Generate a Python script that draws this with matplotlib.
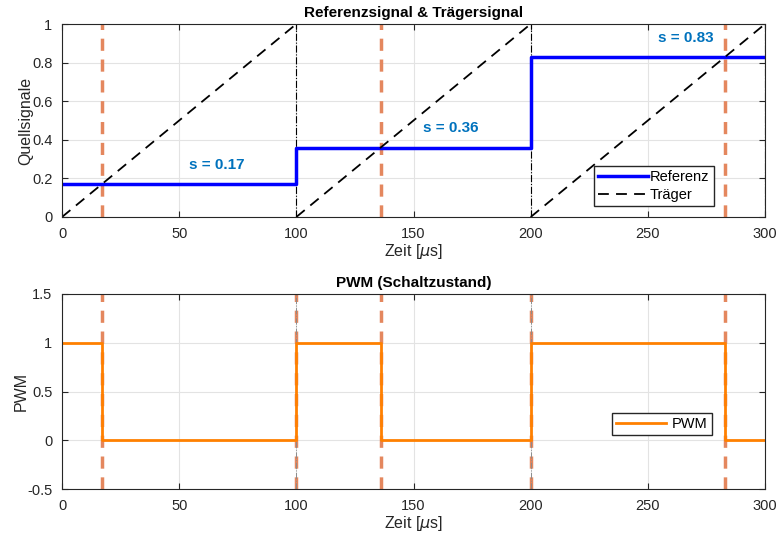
import numpy as np
import matplotlib
matplotlib.use('Agg')
import matplotlib.pyplot as plt

plt.rcParams['font.family'] = ['Liberation Sans', 'DejaVu Sans']
plt.rcParams['mathtext.fontset'] = 'dejavusans'

# Tastgrad je Periode, Periodendauer in us
s_vals = [0.17, 0.36, 0.83]
T = 100
t_end = 300

# Schaltzeitpunkte: Kreuzung Traeger/Referenz
t_cross = [k * T + s * T for k, s in enumerate(s_vals)]
t_period = [k * T for k in range(1, len(s_vals) + 1)]

# Referenz als Treppe
t_ref = []
y_ref = []
for k, s in enumerate(s_vals):
    t_ref += [k * T, (k + 1) * T]
    y_ref += [s, s]

# PWM: 1 bis zur Kreuzung, danach 0
t_pwm = []
y_pwm = []
for k, tc in enumerate(t_cross):
    t_pwm += [k * T, tc, tc, (k + 1) * T]
    y_pwm += [1, 1, 0, 0]

blue_txt = '#0072BD'
mark_col = '#E4875E'
pwm_col = '#FF8000'

fig = plt.figure(figsize=(7.77, 5.43), dpi=100)
ax1 = fig.add_axes([0.0798, 0.6004, 0.9048, 0.3554])
ax2 = fig.add_axes([0.0798, 0.0994, 0.9048, 0.3592])

def style(ax):
    ax.grid(True, color='#e3e3e3', linewidth=0.8)
    ax.set_axisbelow(True)
    ax.tick_params(direction='in', length=4, labelsize=10.5, colors='#262626',
                   top=True, right=True)
    ax.tick_params(axis='x', pad=7)
    ax.tick_params(axis='y', pad=7)
    for sp in ax.spines.values():
        sp.set_color('#262626')
        sp.set_linewidth(0.8)
    ax.set_xlim(0, t_end)
    ax.set_xticks(np.arange(0, t_end + 1, 50))
    ax.set_xlabel(r'Zeit [$\mu$s]', fontsize=11.5, color='#262626', labelpad=1)

# oberes Bild: Referenz und Traeger
for tc in t_cross:
    ax1.axvline(tc, color=mark_col, linestyle=(0, (3.5, 2.5)), linewidth=2.5)
for tp in t_period:
    ax1.axvline(tp, color='k', linestyle='-.', linewidth=0.8)
ax1.plot(t_ref, y_ref, color='b', linewidth=2.5, label='Referenz')
for k in range(len(s_vals)):
    ax1.plot([k * T, (k + 1) * T], [0, 1], color='k', linestyle=(0, (6, 4)),
             linewidth=1.3, label='Träger' if k == 0 else None)
for k, s in enumerate(s_vals):
    ax1.text(k * T + 66, s + 0.1, f's = {s:.2f}', color=blue_txt,
             fontsize=11, fontweight='bold', ha='center', va='center')
style(ax1)
ax1.set_ylim(0, 1)
ax1.set_yticks([0, 0.2, 0.4, 0.6, 0.8, 1])
ax1.set_yticklabels(['0', '0.2', '0.4', '0.6', '0.8', '1'])
ax1.set_ylabel('Quellsignale', fontsize=11.5, color='#262626', labelpad=-1)
ax1.set_title('Referenzsignal & Trägersignal', fontsize=11, fontweight='bold', pad=5)
ax1.legend(loc='center', bbox_to_anchor=(0.842, 0.161), fontsize=10.5,
           fancybox=False, edgecolor='#262626', framealpha=1,
           handlelength=3.4, handletextpad=0.15, borderpad=0.3, labelspacing=0.25)

# unteres Bild: PWM
for tc in sorted(t_cross + t_period[:-1]):
    ax2.axvline(tc, color=mark_col, linestyle=(0, (3.5, 2.5)), linewidth=2.5)
for tp in t_period:
    ax2.axvline(tp, color='0.55', linestyle='-.', linewidth=0.7)
ax2.plot(t_pwm, y_pwm, color=pwm_col, linewidth=2, label='PWM')
style(ax2)
ax2.set_ylim(-0.5, 1.5)
ax2.set_yticks([-0.5, 0, 0.5, 1, 1.5])
ax2.set_yticklabels(['-0.5', '0', '0.5', '1', '1.5'])
ax2.set_ylabel('PWM', fontsize=11.5, color='#262626', labelpad=-1)
ax2.set_title('PWM (Schaltzustand)', fontsize=11, fontweight='bold', pad=5)
ax2.legend(loc='center', bbox_to_anchor=(0.853, 0.333), fontsize=10.5,
           fancybox=False, edgecolor='#262626', framealpha=1,
           handlelength=3.4, handletextpad=0.4, borderpad=0.3)

fig.savefig('out.png', dpi=100)
